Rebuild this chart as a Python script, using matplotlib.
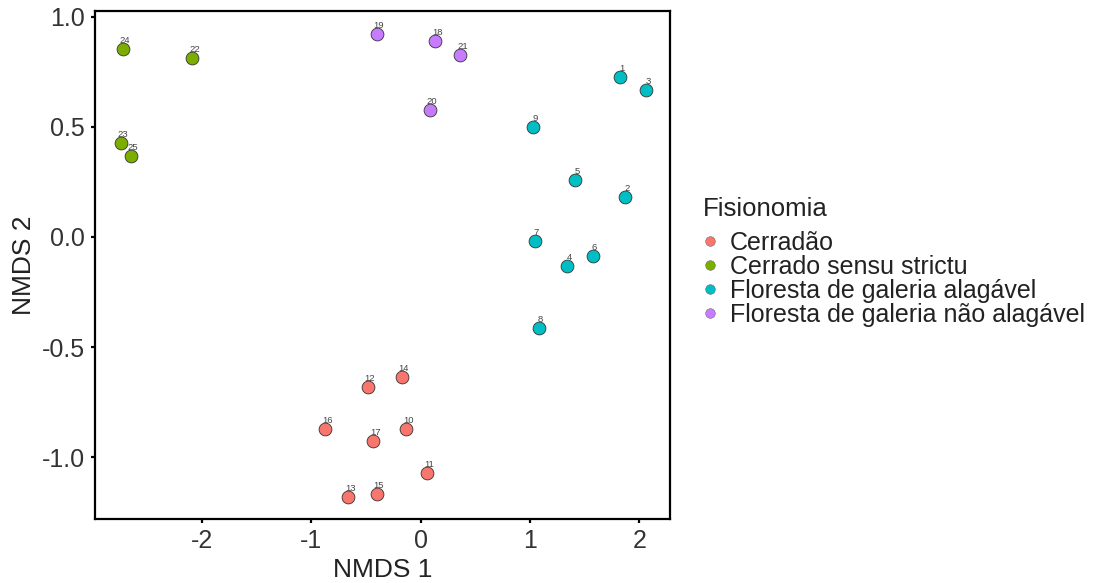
import numpy as np
import matplotlib
matplotlib.use("Agg")
from matplotlib import pyplot as plt

plt.rcParams['font.family'] = ['Liberation Sans', 'DejaVu Sans']

# NMDS scores
groups = ["Cerradão", "Cerrado sensu strictu",
          "Floresta de galeria alagável", "Floresta de galeria não alagável"]
colors = ["#F8766D", "#7CAE00", "#00BFC4", "#C77CFF"]

cerradao_id = [14, 12, 16, 17, 10, 11, 13, 15]
cerradao_x = [-0.17, -0.48, -0.87, -0.43, -0.13, 0.06, -0.66, -0.40]
cerradao_y = [-0.635, -0.68, -0.87, -0.925, -0.87, -1.07, -1.18, -1.165]

sensu_id = [24, 22, 23, 25]
sensu_x = [-2.72, -2.085, -2.74, -2.65]
sensu_y = [0.853, 0.81, 0.427, 0.366]

alag_id = [1, 3, 9, 5, 2, 7, 4, 6, 8]
alag_x = [1.824, 2.06, 1.027, 1.415, 1.87, 1.043, 1.34, 1.573, 1.08]
alag_y = [0.727, 0.668, 0.498, 0.257, 0.181, -0.019, -0.133, -0.086, -0.413]

nao_id = [19, 18, 21, 20]
nao_x = [-0.40, 0.136, 0.364, 0.088]
nao_y = [0.923, 0.887, 0.825, 0.576]

series = [(cerradao_id, cerradao_x, cerradao_y),
          (sensu_id, sensu_x, sensu_y),
          (alag_id, alag_x, alag_y),
          (nao_id, nao_x, nao_y)]

fig = plt.figure(figsize=(11.03, 5.83), dpi=100)
ax = fig.add_axes([0.0857, 0.1098, 0.5217, 0.8712])

for (ids, xs, ys), name, col in zip(series, groups, colors):
    ax.scatter(xs, ys, s=85, color=col, edgecolors="#333333", linewidths=0.6,
               label=name, zorder=3)
    for i, x, y in zip(ids, xs, ys):
        ax.annotate(str(i), (x, y), xytext=(2, 4), textcoords="offset pixels",
                    ha="center", va="bottom", fontsize=6.8, color="#444444",
                    zorder=4)

ax.set_xlim(-2.98, 2.28)
ax.set_ylim(-1.28, 1.025)
ax.set_xticks([-2, -1, 0, 1, 2])
ax.set_yticks([-1.0, -0.5, 0.0, 0.5, 1.0])
ax.set_yticklabels(["-1.0", "-0.5", "0.0", "0.5", "1.0"])
ax.set_xticklabels(["-2", "-1", "0", "1", "2"])

for sp in ax.spines.values():
    sp.set_linewidth(1.6)
    sp.set_color("black")
ax.tick_params(length=3, width=1.6, labelsize=18, colors="black", pad=4)
for lab in ax.get_xticklabels() + ax.get_yticklabels():
    lab.set_color("#333333")

ax.set_xlabel("NMDS 1", fontsize=19, color="#222222", labelpad=4)
ax.set_ylabel("NMDS 2", fontsize=19, color="#222222", labelpad=4)

handles = [plt.Line2D([], [], marker="o", linestyle="", markersize=7,
                      markerfacecolor=c, markeredgecolor="#555555",
                      markeredgewidth=0.3) for c in colors]
leg = fig.legend(handles, groups, title="Fisionomia", loc="center left",
                 bbox_to_anchor=(0.626, 0.55), frameon=False, fontsize=18,
                 title_fontsize=18.5, handletextpad=0.47, labelspacing=0.0,
                 handlelength=0.6, borderpad=0)
leg._legend_box.align = "left"
leg._legend_box.sep = 7
for t in leg.get_texts():
    t.set_color("#222222")
leg.get_title().set_color("#222222")

plt.savefig("out.png", dpi=100)
